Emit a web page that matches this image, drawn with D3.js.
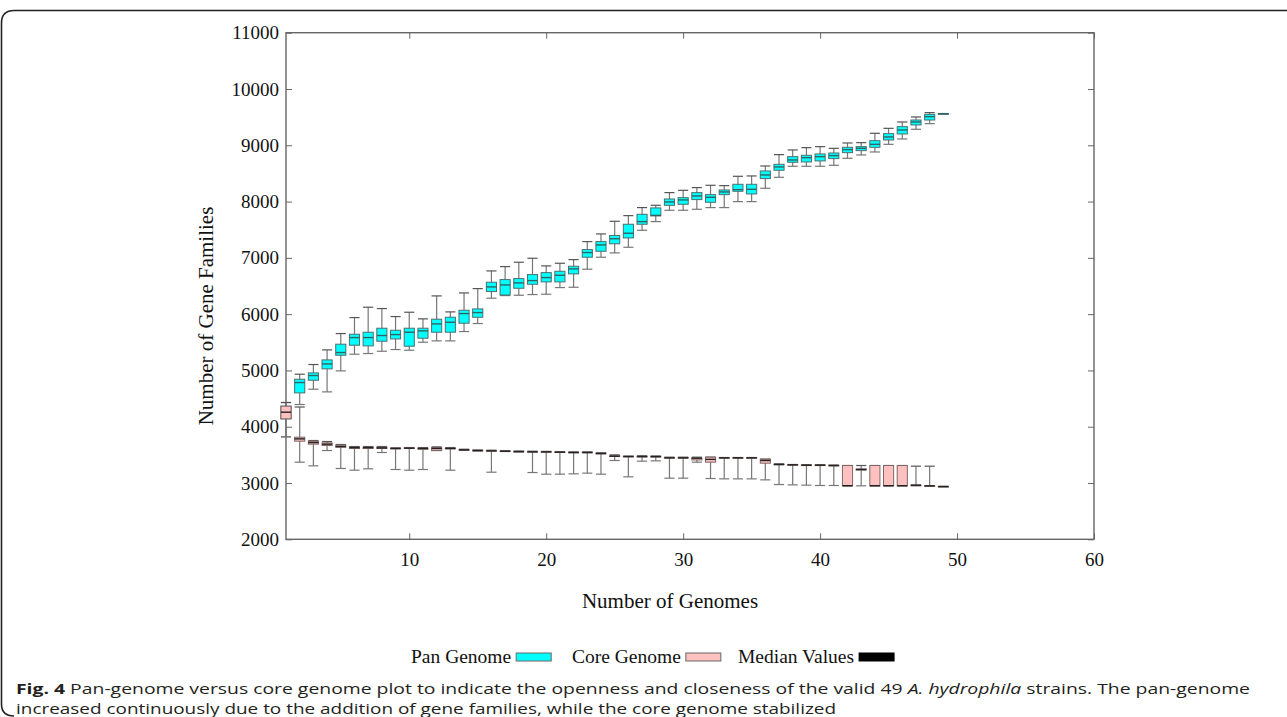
<!DOCTYPE html>
<html><head><meta charset="utf-8">
<script src="https://cdn.jsdelivr.net/npm/d3@7"></script>
<style>
html,body{margin:0;padding:0;background:#fff;}
svg{display:block;}
</style></head>
<body>
<svg id="chart" width="1287" height="717"></svg>
<script>
// ---- Data ----
const genomes = [1,2,3,4,5,6,7,8,9,10,11,12,13,14,15,16,17,18,19,20,21,22,23,24,25,26,27,28,29,30,31,32,33,34,35,36,37,38,39,40,41,42,43,44,45,46,47,48,49];
const xTicks = [10,20,30,40,50,60];
const yTicks = [2000,3000,4000,5000,6000,7000,8000,9000,10000,11000];

const panMin    = [3820,4394,4666,4619,4992,5288,5300,5341,5371,5359,5501,5525,5525,5691,5833,6283,6330,6336,6348,6354,6472,6478,6798,7011,7088,7188,7490,7644,7845,7845,7863,7893,7893,7999,7999,8236,8431,8627,8627,8627,8644,8769,8828,8881,9017,9112,9284,9384,9562];
const panQ1     = [4140,4601,4826,5028,5270,5448,5436,5519,5560,5430,5572,5679,5679,5839,5945,6401,6340,6460,6531,6573,6573,6715,7011,7117,7250,7354,7597,7745,7934,7952,8035,7987,8123,8183,8135,8408,8556,8698,8704,8722,8763,8869,8905,8964,9094,9201,9361,9449,9562];
const panMedian = [4258,4785,4909,5116,5318,5584,5584,5620,5637,5679,5703,5827,5856,6010,6028,6484,6519,6555,6596,6650,6691,6804,7094,7230,7340,7437,7644,7755,7993,8029,8100,8076,8171,8212,8218,8473,8615,8739,8780,8798,8816,8923,8946,9017,9148,9272,9414,9509,9562];
const panQ3     = [4365,4844,4957,5187,5466,5643,5679,5750,5714,5750,5750,5910,5945,6069,6093,6567,6614,6632,6703,6738,6762,6851,7147,7289,7398,7597,7774,7887,8046,8070,8159,8123,8206,8307,8307,8544,8662,8798,8822,8846,8863,8964,8976,9082,9207,9331,9449,9550,9562];
const panMax    = [4430,4933,5105,5365,5655,5939,6123,6099,5957,6034,5916,6324,6040,6377,6454,6768,6845,6922,6993,6857,6904,6969,7289,7425,7650,7750,7893,7934,8159,8200,8248,8289,8283,8449,8455,8632,8834,8917,8958,8976,8946,9041,9047,9213,9301,9414,9503,9580,9562];

const coreMin    = [3820,3370,3305,3577,3258,3228,3252,3542,3240,3228,3240,3577,3228,3580,3570,3192,3560,3553,3186,3157,3157,3163,3175,3157,3400,3110,3388,3394,3086,3086,3370,3080,3074,3074,3074,3056,2973,2967,2962,2956,2956,2950,2950,2950,2950,2950,2950,2945,2938];
const coreQ1     = [4140,3743,3690,3666,3636,3613,3613,3613,3607,3613,3600,3577,3607,3583,3572,3565,3562,3556,3550,3548,3543,3537,3537,3518,3470,3465,3462,3462,3445,3445,3410,3370,3440,3440,3440,3352,3326,3318,3312,3312,3308,2950,3230,2950,2950,2950,2955,2948,2938];
const coreMedian = [4258,3784,3719,3690,3648,3630,3630,3624,3613,3619,3613,3613,3613,3589,3577,3571,3565,3559,3553,3553,3548,3542,3542,3524,3477,3470,3470,3468,3447,3447,3441,3420,3447,3447,3447,3400,3329,3323,3317,3317,3311,2952,3240,2952,2952,2952,2962,2950,2938];
const coreQ3     = [4365,3814,3743,3713,3672,3640,3640,3636,3620,3625,3620,3630,3620,3595,3582,3577,3570,3563,3560,3558,3553,3547,3547,3530,3484,3475,3477,3474,3452,3452,3447,3459,3452,3452,3452,3423,3335,3326,3320,3320,3314,3311,3250,3311,3311,3311,2965,2952,2938];
const coreMax    = [4430,4350,3755,3737,3684,3648,3648,3648,3624,3630,3630,3642,3630,3600,3585,3583,3572,3566,3565,3562,3557,3552,3552,3536,3500,3477,3483,3480,3459,3459,3459,3460,3453,3453,3453,3425,3340,3329,3323,3323,3317,3311,3311,3311,3311,3311,3299,3299,2938];

const legendLabels = ["Pan Genome","Core Genome","Median Values"];
const legendColors = ["#00ffff","#ffc0c0","#000000"];

// ---- Layout ----
const svg = d3.select("#chart");
const L = 286, R = 1094, T = 32.7, B = 539.3;
const x = d3.scaleLinear().domain([1,60]).range([L,R]);
const y = d3.scaleLinear().domain([2000,11000]).range([B,T]);
const serif = "'Liberation Serif','Times New Roman',serif";

// frame around figure
svg.append("path")
  .attr("d","M1287,10.5 H14 Q1.5,10.5 1.5,23 V704 Q1.5,716 14,716")
  .attr("fill","none").attr("stroke","#222").attr("stroke-width",1.6);

// axes
const axisColor = "#666";
const gL = svg.append("g").attr("transform",`translate(${L},0)`)
  .call(d3.axisLeft(y).tickValues(yTicks).tickSizeInner(-6).tickSizeOuter(0).tickPadding(7).tickFormat(d3.format("d")));
const gR = svg.append("g").attr("transform",`translate(${R},0)`)
  .call(d3.axisRight(y).tickValues(yTicks).tickSizeInner(-6).tickSizeOuter(0).tickFormat(""));
const gB = svg.append("g").attr("transform",`translate(0,${B})`)
  .call(d3.axisBottom(x).tickValues(xTicks).tickSizeInner(-6).tickSizeOuter(0).tickPadding(13).tickFormat(d3.format("d")));
const gT = svg.append("g").attr("transform",`translate(0,${T})`)
  .call(d3.axisTop(x).tickValues(xTicks).tickSizeInner(-6).tickSizeOuter(0).tickFormat(""));
[gL,gR,gB,gT].forEach(g=>{
  g.select(".domain").remove();
  g.selectAll(".tick line").attr("stroke",axisColor).attr("stroke-width",1);
  g.selectAll(".tick text").attr("fill","#111").style("font-family",serif).style("font-size","19px");
});
svg.append("rect").attr("x",L).attr("y",T).attr("width",R-L).attr("height",B-T)
  .attr("fill","none").attr("stroke",axisColor).attr("stroke-width",1.4);

// box plots
const step = x(2)-x(1);
const bw = step*0.74;
function drawBoxes(cls, mins, q1s, meds, q3s, maxs, fill, stroke, medStroke){
  const data = genomes.map((g,i)=>({g, mn:mins[i], q1:q1s[i], md:meds[i], q3:q3s[i], mx:maxs[i]}));
  const grp = svg.append("g").attr("class",cls);
  const item = grp.selectAll("g").data(data).join("g");
  item.append("line").attr("x1",d=>x(d.g)).attr("x2",d=>x(d.g))
    .attr("y1",d=>y(d.mn)).attr("y2",d=>y(d.mx)).attr("stroke","#777").attr("stroke-width",1.2);
  item.append("line").attr("x1",d=>x(d.g)-bw/2).attr("x2",d=>x(d.g)+bw/2)
    .attr("y1",d=>y(d.mx)).attr("y2",d=>y(d.mx)).attr("stroke","#555").attr("stroke-width",1.2);
  item.append("line").attr("x1",d=>x(d.g)-bw/2).attr("x2",d=>x(d.g)+bw/2)
    .attr("y1",d=>y(d.mn)).attr("y2",d=>y(d.mn)).attr("stroke","#777").attr("stroke-width",1.2);
  item.append("rect").attr("x",d=>x(d.g)-bw/2).attr("width",bw)
    .attr("y",d=>y(d.q3)).attr("height",d=>Math.max(0.6,y(d.q1)-y(d.q3)))
    .attr("fill",fill).attr("stroke",stroke).attr("stroke-width",1);
  item.append("line").attr("x1",d=>x(d.g)-bw/2).attr("x2",d=>x(d.g)+bw/2)
    .attr("y1",d=>y(d.md)).attr("y2",d=>y(d.md)).attr("stroke",medStroke).attr("stroke-width",1.4);
}
drawBoxes("pan", panMin, panQ1, panMedian, panQ3, panMax, "#00ffff", "#4a7070", "#2f6262");
drawBoxes("core", coreMin, coreQ1, coreMedian, coreQ3, coreMax, "#ffc0c0", "#806666", "#222");

// axis titles
svg.append("text").attr("transform","translate(213,316) rotate(-90)")
  .attr("text-anchor","middle").style("font-family",serif).style("font-size","21px").attr("fill","#111")
  .text("Number of Gene Families");
svg.append("text").attr("x",670).attr("y",608)
  .attr("text-anchor","middle").style("font-family",serif).style("font-size","21px").attr("fill","#111")
  .text("Number of Genomes");

// legend
const legX = [411, 572, 738];
const lg = svg.append("g").selectAll("g").data(legendLabels).join("g")
  .attr("transform",(d,i)=>`translate(${legX[i]},663)`);
lg.append("text").style("font-family",serif).style("font-size","19.5px").attr("fill","#111").text(d=>d);
lg.each(function(d,i){
  const w = this.querySelector("text").getComputedTextLength();
  d3.select(this).append("rect").attr("x",w+5).attr("y",-10).attr("width",35).attr("height",8)
    .attr("fill",legendColors[i]).attr("stroke",i===2?"#000":"#666").attr("stroke-width",1);
});

// caption
const cap = svg.append("g").style("font-family","'Open Sans','Noto Sans',sans-serif").style("font-size","15px").attr("fill","#231f20");
const t1 = cap.append("text").attr("x",16).attr("y",694).attr("textLength",1234).attr("lengthAdjust","spacingAndGlyphs");
t1.append("tspan").style("font-weight","bold").text("Fig. 4");
t1.append("tspan").text(" Pan-genome versus core genome plot to indicate the openness and closeness of the valid 49 ");
t1.append("tspan").style("font-style","italic").text("A. hydrophila");
t1.append("tspan").text(" strains. The pan-genome");
cap.append("text").attr("x",16).attr("y",714).attr("textLength",820).attr("lengthAdjust","spacingAndGlyphs")
  .text("increased continuously due to the addition of gene families, while the core genome stabilized");
</script>
</body></html>
